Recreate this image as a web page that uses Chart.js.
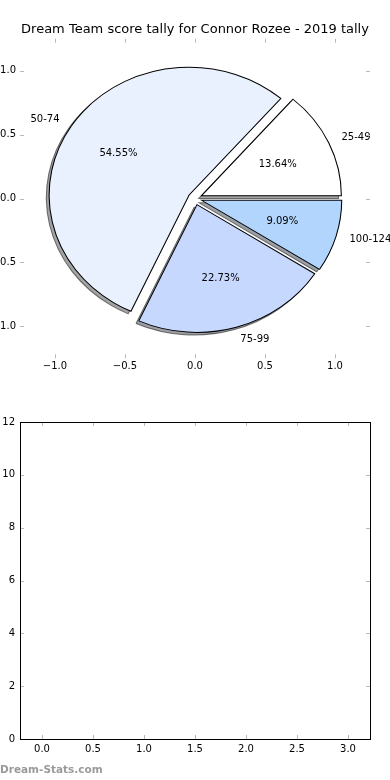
<!DOCTYPE html>
<html><head><meta charset="utf-8">
<script src="https://cdn.jsdelivr.net/npm/chart.js@4"></script>
<style>
html,body{margin:0;padding:0;background:#fff;width:390px;height:780px;overflow:hidden;position:relative}
#c1{position:absolute;left:0;top:0}
#c2{position:absolute;left:0;top:390px}
#wm{position:absolute;left:0;top:763px;font:bold 10.5px "DejaVu Sans",sans-serif;color:#9a9a9a;white-space:nowrap}
</style></head><body>
<canvas id="c1" width="390" height="390"></canvas>
<canvas id="c2" width="390" height="390"></canvas>
<div id="wm">Dream-Stats.com</div>
<script>
const titleText = 'Dream Team score tally for Connor Rozee - 2019 tally';
const categories = ['25-49', '50-74', '75-99', '100-124'];
const counts = [3, 12, 5, 2];
const sliceColors = ['#ffffff', '#eaf1fe', '#c6d8fd', '#b2d5fe'];
const explode = [0.05, 0.05, 0.05, 0.05];
const pieTicks = [-1, -0.5, 0, 0.5, 1];
const emptyXTicks = [0, 0.5, 1, 1.5, 2, 2.5, 3];
const emptyYTicks = [0, 2, 4, 6, 8, 10, 12];

const FONT = '"DejaVu Sans", sans-serif';
const fmt1 = v => v.toFixed(1).replace('-', '\u2212');
const fmt0 = v => String(v).replace('-', '\u2212');

const tickMarks = {
  id: 'tickMarks',
  afterDraw(chart) {
    const {ctx, chartArea: a} = chart;
    const xs = chart.scales.x, ys = chart.scales.y;
    ctx.save();
    ctx.strokeStyle = '#b8b8b8';
    ctx.lineWidth = 1;
    ctx.beginPath();
    xs.ticks.forEach(t => {
      const p = Math.round(xs.getPixelForValue(t.value)) + 0.5;
      ctx.moveTo(p, a.bottom); ctx.lineTo(p, a.bottom - 4);
      ctx.moveTo(p, a.top); ctx.lineTo(p, a.top + 4);
    });
    ys.ticks.forEach(t => {
      const p = Math.round(ys.getPixelForValue(t.value)) + 0.5;
      ctx.moveTo(a.left, p); ctx.lineTo(a.left + 4, p);
      ctx.moveTo(a.right, p); ctx.lineTo(a.right - 4, p);
    });
    ctx.stroke();
    ctx.restore();
  }
};

const frame = {
  id: 'frame',
  afterDraw(chart) {
    const {ctx, chartArea: a} = chart;
    ctx.save();
    ctx.strokeStyle = '#000';
    ctx.lineWidth = 1;
    ctx.strokeRect(Math.round(a.left) + 0.5, Math.round(a.top) + 0.5,
      Math.round(a.right) - Math.round(a.left), Math.round(a.bottom) - Math.round(a.top));
    ctx.restore();
  }
};

const mplPie = {
  id: 'mplPie',
  beforeDatasetsDraw(chart) {
    const ctx = chart.ctx, xs = chart.scales.x, ys = chart.scales.y;
    const meta = chart.getDatasetMeta(0);
    const kx = xs.getPixelForValue(1) - xs.getPixelForValue(0);
    const ky = ys.getPixelForValue(0) - ys.getPixelForValue(1);
    const midOf = arc => (arc.startAngle + arc.endAngle) / 2;
    const place = (arc, i, shadow) => {
      const mid = midOf(arc);
      let ox = explode[i] * Math.cos(mid), oy = explode[i] * Math.sin(mid);
      if (shadow) { ox -= 0.02; oy -= 0.02; }
      ctx.translate(xs.getPixelForValue(ox), ys.getPixelForValue(oy));
      ctx.scale(kx / arc.outerRadius, -ky / arc.outerRadius);
      ctx.translate(-arc.x, -arc.y);
    };
    meta.data.forEach((arc, i) => {
      ctx.save(); place(arc, i, true);
      ctx.filter = 'brightness(0.3)'; ctx.globalAlpha = 0.5;
      arc.draw(ctx); ctx.restore();
    });
    meta.data.forEach((arc, i) => {
      ctx.save(); place(arc, i, false); arc.draw(ctx); ctx.restore();
    });
    const total = counts.reduce((s, v) => s + v, 0);
    ctx.save();
    ctx.font = '10px ' + FONT;
    ctx.fillStyle = '#000';
    ctx.textBaseline = 'middle';
    meta.data.forEach((arc, i) => {
      const mid = midOf(arc), c = Math.cos(mid), s = Math.sin(mid), e = explode[i];
      const lx = (e + 1.1) * c, ly = (e + 1.1) * s;
      ctx.textAlign = lx > 0 ? 'left' : 'right';
      ctx.fillText(categories[i], xs.getPixelForValue(lx), ys.getPixelForValue(ly));
      ctx.textAlign = 'center';
      ctx.fillText((counts[i] / total * 100).toFixed(2) + '%',
        xs.getPixelForValue((e + 0.6) * c), ys.getPixelForValue((e + 0.6) * s));
    });
    ctx.restore();
    return false;
  }
};

const tickFont = {family: FONT, size: 10};
const rightSpacer = {
  type: 'linear', position: 'right', display: true,
  afterFit: s => { s.width = 20; },
  grid: {display: false, drawTicks: false},
  border: {display: false},
  ticks: {display: false}
};

new Chart(document.getElementById('c1'), {
  type: 'pie',
  data: {
    labels: categories,
    datasets: [{
      data: counts,
      backgroundColor: sliceColors,
      borderColor: '#000',
      borderWidth: 1.2,
      borderJoinStyle: 'miter'
    }]
  },
  options: {
    responsive: false,
    devicePixelRatio: 1,
    animation: false,
    rotation: 90,
    layout: {padding: 0},
    plugins: {
      legend: {display: false},
      tooltip: {enabled: false},
      title: {
        display: true, text: titleText, color: '#000',
        font: {family: FONT, size: 13, weight: 'normal', lineHeight: 1.2},
        padding: {top: 22, bottom: 1.15}
      }
    },
    scales: {
      x: {
        type: 'linear', position: 'bottom', min: -1.25, max: 1.25,
        afterBuildTicks: s => { s.ticks = pieTicks.map(v => ({value: v})); },
        afterFit: s => { s.height = 31.75; },
        grid: {display: false, drawTicks: false},
        border: {display: false},
        ticks: {callback: v => fmt1(v), font: tickFont, color: '#000', padding: 2, maxRotation: 0}
      },
      y: {
        type: 'linear', position: 'left', min: -1.25, max: 1.25,
        afterBuildTicks: s => { s.ticks = pieTicks.map(v => ({value: v})); },
        afterFit: s => { s.width = 20; },
        grid: {display: false, drawTicks: false},
        border: {display: false},
        ticks: {callback: v => fmt1(v), font: tickFont, color: '#000', padding: 4}
      },
      yr: rightSpacer
    }
  },
  plugins: [mplPie, tickMarks]
});

new Chart(document.getElementById('c2'), {
  type: 'scatter',
  data: {datasets: [{data: []}]},
  options: {
    responsive: false,
    devicePixelRatio: 1,
    animation: false,
    layout: {padding: {left: 0, right: 20, top: 32, bottom: 0}},
    plugins: {legend: {display: false}, tooltip: {enabled: false}},
    scales: {
      x: {
        type: 'linear', position: 'bottom', min: -0.2157, max: 3.2157,
        afterBuildTicks: s => { s.ticks = emptyXTicks.map(v => ({value: v})); },
        afterFit: s => { s.height = 41; },
        grid: {display: false, drawTicks: false},
        border: {display: false},
        ticks: {callback: v => fmt1(v), font: tickFont, color: '#000', padding: 4, maxRotation: 0}
      },
      y: {
        type: 'linear', position: 'left', min: 0, max: 12,
        afterBuildTicks: s => { s.ticks = emptyYTicks.map(v => ({value: v})); },
        afterFit: s => { s.width = 20; },
        grid: {display: false, drawTicks: false},
        border: {display: false},
        ticks: {callback: v => fmt0(v), font: tickFont, color: '#000', padding: 5}
      }
    }
  },
  plugins: [tickMarks, frame]
});
</script>
</body></html>
